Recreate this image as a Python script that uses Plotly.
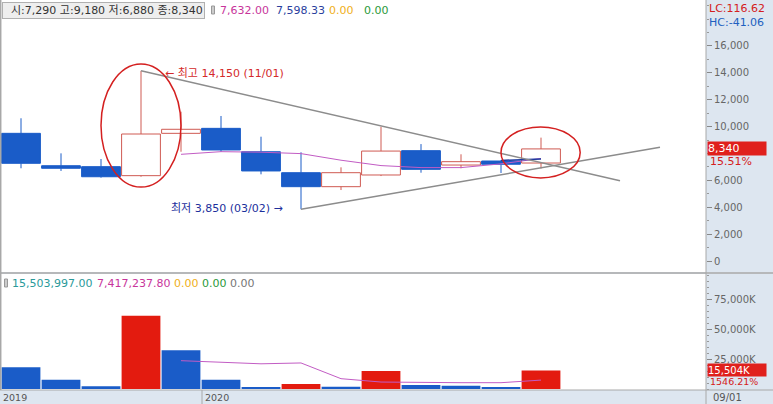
import plotly.graph_objects as go

# ---------------- data ----------------
months = ["2019-08", "2019-09", "2019-10", "2019-11", "2019-12", "2020-01", "2020-02",
          "2020-03", "2020-04", "2020-05", "2020-06", "2020-07", "2020-08", "2020-09"]
opens = [9500, 7090, 7020, 6350, 9500, 9870, 8130, 6570, 5530, 6400, 8210, 7140, 7440, 7290]
highs = [10620, 8010, 7590, 14150, 11110, 10790, 9250, 8090, 6970, 9990, 8700, 7940, 7500, 9180]
lows = [6900, 6700, 6200, 6270, 8130, 8130, 6450, 3850, 5280, 6320, 6570, 6900, 6550, 6880]
closes = [7270, 6900, 6270, 9450, 9800, 8260, 6700, 5530, 6570, 8180, 6820, 7390, 7200, 8340]
price_ma5 = [None, None, None, None, 7938, 8136, 8096, 7990, 7500, 7100, 6950, 6950, 7230, 7632]
price_ma_long = [None] * 12 + [7480, 7598]
volumes_k = [18100, 7750, 2250, 61100, 32200, 7750, 1400, 4200, 1800, 15000, 3300, 2750, 1100, 15504]
volume_ma5 = [None, None, None, None, 23600, 22200, 21000, 21700, 8600, 5800, 5300, 5250, 5250, 7417]
price_ticks = [0, 2000, 4000, 6000, 10000, 12000, 14000, 16000]
volume_ticks = [25000, 50000, 75000]
volume_tick_labels = ["25,000K", "50,000K", "75,000K"]
trend_high = ([3, 14.975], [14150, 5975])
trend_low = ([7, 15.975], [3850, 8460])

x = list(range(len(months)))
RED = "#e31b0f"
BLUE = "#1a5cc8"
CANDLE_RED = "#cf5a52"
MAG = "#c25cc4"
FONT = "DejaVu Sans, Noto Sans CJK KR"

up = [c >= o for o, c in zip(opens, closes)]
vol_colors = [BLUE if i == 0 or volumes_k[i] < volumes_k[i - 1] else RED for i in range(len(volumes_k))]

fig = go.Figure()

# candle wicks
for is_up, col in ((True, CANDLE_RED), (False, BLUE)):
    wx, wy = [], []
    for i in x:
        if up[i] != is_up:
            continue
        top = max(opens[i], closes[i])
        bot = min(opens[i], closes[i])
        wx += [i, i, None, i, i, None]
        wy += [highs[i], top, None, bot, lows[i], None]
    fig.add_trace(go.Scatter(x=wx, y=wy, mode="lines", line=dict(color=col, width=1),
                             xaxis="x", yaxis="y", showlegend=False, hoverinfo="skip"))

# candle bodies
body_base = [min(o, c) for o, c in zip(opens, closes)]
body_len = [abs(c - o) for o, c in zip(opens, closes)]
fig.add_trace(go.Bar(x=x, y=body_len, base=body_base, width=0.97,
                     marker=dict(color=["white" if u else BLUE for u in up],
                                 line=dict(color=[CANDLE_RED if u else BLUE for u in up], width=1)),
                     xaxis="x", yaxis="y", showlegend=False, hoverinfo="skip"))

fig.add_trace(go.Scatter(x=x, y=price_ma5, mode="lines", line=dict(color=MAG, width=1),
                         xaxis="x", yaxis="y", showlegend=False, hoverinfo="skip"))
fig.add_trace(go.Scatter(x=x, y=price_ma_long, mode="lines", line=dict(color="#1f3aa0", width=1.5),
                         xaxis="x", yaxis="y", showlegend=False, hoverinfo="skip"))
fig.add_trace(go.Bar(x=x, y=volumes_k, width=0.97,
                     marker=dict(color=vol_colors, line=dict(width=0)),
                     xaxis="x", yaxis="y2", showlegend=False, hoverinfo="skip"))
fig.add_trace(go.Scatter(x=x, y=volume_ma5, mode="lines", line=dict(color=MAG, width=1),
                         xaxis="x", yaxis="y2", showlegend=False, hoverinfo="skip"))

PW = 706.0
PH = 390.0
def px_x(p):
    return p / PW
def px_y(p):
    return (PH - p) / PH

GRAY = "#a8a8a8"
shapes = []
shapes.append(dict(type="line", xref="x", yref="y", x0=trend_high[0][0], x1=trend_high[0][1],
                   y0=trend_high[1][0], y1=trend_high[1][1], line=dict(color="#8c8c8c", width=1.5)))
shapes.append(dict(type="line", xref="x", yref="y", x0=trend_low[0][0], x1=trend_low[0][1],
                   y0=trend_low[1][0], y1=trend_low[1][1], line=dict(color="#8c8c8c", width=1.5)))
shapes.append(dict(type="circle", xref="x", yref="y", x0=2.0, x1=4.0, y0=5500, y1=14660,
                   line=dict(color="#d42020", width=1.5)))
shapes.append(dict(type="circle", xref="x", yref="y", x0=12.0, x1=13.98, y0=6180, y1=9970,
                   line=dict(color="#d42020", width=1.5)))
shapes.append(dict(type="line", xref="paper", yref="paper", x0=0, x1=773 / PW, y0=px_y(273), y1=px_y(273),
                   line=dict(color=GRAY, width=1.5)))
shapes.append(dict(type="line", xref="paper", yref="paper", x0=0, x1=773 / PW, y0=0, y1=0,
                   line=dict(color=GRAY, width=1)))
shapes.append(dict(type="line", xref="paper", yref="paper", x0=1, x1=1, y0=px_y(404), y1=1,
                   line=dict(color=GRAY, width=1)))
shapes.append(dict(type="line", xref="paper", yref="paper", x0=0.001, x1=0.001, y0=0, y1=1,
                   line=dict(color=GRAY, width=1.5)))
shapes.append(dict(type="line", xref="paper", yref="paper", x0=px_x(202), x1=px_x(202), y0=px_y(390), y1=px_y(404),
                   line=dict(color=GRAY, width=1)))

ann = []
def txt(px, py, text, color, size=11, anchor="left"):
    ann.append(dict(xref="paper", yref="paper", x=px_x(px), y=px_y(py), xanchor=anchor, yanchor="middle",
                    text=text, showarrow=False, font=dict(family=FONT, size=size, color=color)))

ann.append(dict(xref="paper", yref="paper", x=px_x(2), y=px_y(2), xanchor="left", yanchor="top",
                text="  시:7,290 고:9,180 저:6,880 종:8,340", showarrow=False,
                font=dict(family=FONT, size=11, color="#333"), bgcolor="#eeeeee",
                bordercolor="#b0b0b0", borderwidth=1, borderpad=1))
txt(218, 10, "7,632.00", "#c8359b", 11)
txt(274, 10, "7,598.33", "#2b3f9e", 11)
txt(327, 10, "0.00", "#f0b020", 11)
txt(362, 10, "0.00", "#2a9a3a", 11)

txt(10, 283, "15,503,997.00", "#2a9a9a", 11)
txt(95, 283, "7,417,237.80", "#c8359b", 11)
txt(172, 283, "0.00", "#f0b020", 11)
txt(200, 283, "0.00", "#2a9a3a", 11)
txt(228, 283, "0.00", "#777777", 11)

ann.append(dict(xref="x", yref="y", x=3.55, y=14150, xanchor="left", yanchor="middle", yshift=-3,
                text="← 최고 14,150 (11/01)", showarrow=False, font=dict(family=FONT, size=11, color="#d42a2a")))
ann.append(dict(xref="x", yref="y", x=6.6, y=3850, xanchor="right", yanchor="middle", yshift=1,
                text="최저 3,850 (03/02) →", showarrow=False, font=dict(family=FONT, size=11, color="#1c2f9c")))
txt(707, 8, "LC:116.62", "#d42020", 11)
txt(707, 22, "HC:-41.06", "#2060c0", 11)
ann.append(dict(xref="paper", yref="y", x=px_x(707), y=closes[-1], xanchor="left", yanchor="middle",
                text="8,340", showarrow=False, font=dict(family=FONT, size=11, color="white"),
                bgcolor="#e0201c", width=58, align="left", borderpad=0, height=13))
ann.append(dict(xref="paper", yref="y", x=px_x(708), y=closes[-1], xanchor="left", yanchor="middle", yshift=-13,
                text="15.51%", showarrow=False, font=dict(family=FONT, size=11, color="#d42020")))
ann.append(dict(xref="paper", yref="y2", x=px_x(707), y=volumes_k[-1], xanchor="left", yanchor="middle",
                text="15,504K", showarrow=False, font=dict(family=FONT, size=10, color="white"),
                bgcolor="#e0201c", width=58, align="left", borderpad=0, height=12))
ann.append(dict(xref="paper", yref="y2", x=px_x(708), y=volumes_k[-1], xanchor="left", yanchor="middle", yshift=-11,
                text="1546.21%", showarrow=False, font=dict(family=FONT, size=9.5, color="#d42020")))
txt(1, 397, "2019", "#555", 9.5)
txt(203, 397, "2020", "#555", 9.5)
txt(711, 397, "09/01", "#555", 10)

# small legend markers (drawn after header box)
for (mx, my) in ((7, 10), (213, 10), (6, 283)):
    shapes.append(dict(type="rect", xref="paper", yref="paper", x0=px_x(mx - 1.5), x1=px_x(mx + 1.5),
                       y0=px_y(my + 4), y1=px_y(my - 4), line=dict(color="#999", width=1), fillcolor="#ccc"))

fig.update_layout(
    width=773, height=404,
    margin=dict(l=0, r=67, t=0, b=14),
    paper_bgcolor="#dde6f0", plot_bgcolor="white",
    font=dict(family=FONT, size=10, color="#555"),
    barmode="overlay",
    shapes=shapes, annotations=ann,
    xaxis=dict(range=[-0.525, 17.125], showticklabels=False, showgrid=False, zeroline=False,
               anchor="y2", ticks="", fixedrange=True),
    yaxis=dict(domain=[px_y(272), 1], range=[-818, 19420], side="right", tickvals=price_ticks,
               tickformat=",", ticks="outside", ticklen=5, tickcolor="#888", showgrid=False, zeroline=False,
               minor=dict(ticks="outside", ticklen=2, dtick=1000, tickcolor="#999", showgrid=False),
               showline=False, anchor="x", tickfont=dict(size=10, color="#666")),
    yaxis2=dict(domain=[0, px_y(274)], range=[-833, 95833], side="right", tickvals=volume_ticks,
                ticktext=volume_tick_labels, ticks="outside", ticklen=5, tickcolor="#888",
                showgrid=False, zeroline=False,
                minor=dict(ticks="outside", ticklen=2, dtick=5000, tickcolor="#999", showgrid=False),
                anchor="x", tickfont=dict(size=10, color="#666")),
)

fig.write_html("out.html", config={"displayModeBar": False},
               post_script="document.body.style.margin='0px';document.body.style.overflow='hidden';")
